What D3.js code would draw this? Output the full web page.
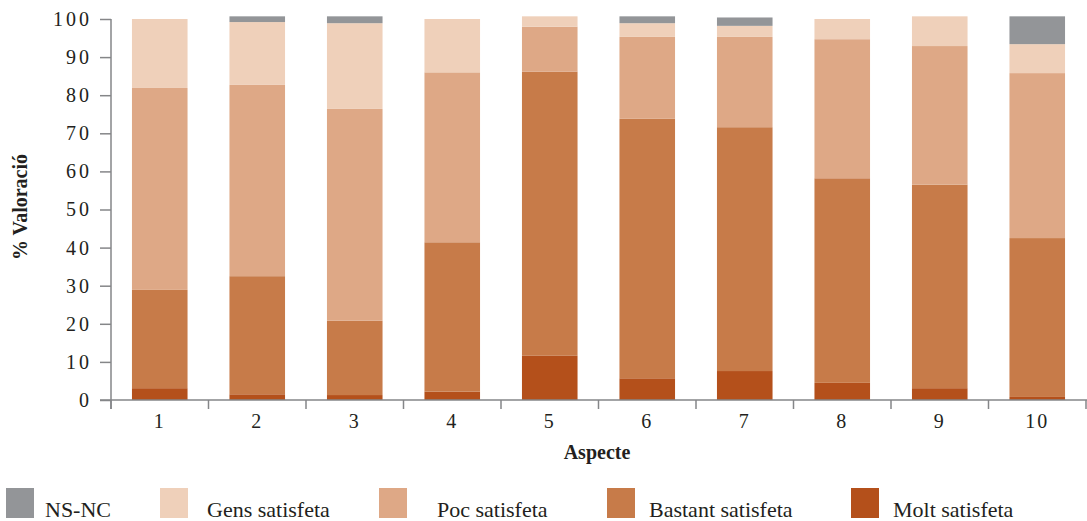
<!DOCTYPE html>
<html>
<head>
<meta charset="utf-8">
<script src="https://cdn.jsdelivr.net/npm/d3@7"></script>
<style>
  html, body { margin: 0; padding: 0; background: #ffffff; }
  svg { display: block; }
  text { font-family: "Liberation Serif", "DejaVu Serif", serif; fill: #231f20; }
</style>
</head>
<body>
<svg id="chart" width="1087" height="521"></svg>
<script>
// ---- Data ----
const categories = ["1", "2", "3", "4", "5", "6", "7", "8", "9", "10"];
const seriesNames = ["Molt satisfeta", "Bastant satisfeta", "Poc satisfeta", "Gens satisfeta", "NS-NC"];
const moltSatisfeta    = [3.1, 1.5, 1.3, 2.2, 11.6, 5.7, 7.6, 4.5, 3.1, 0.8];
const bastantSatisfeta = [25.8, 31.0, 19.5, 39.2, 74.6, 68.1, 64.0, 53.7, 53.4, 41.7];
const pocSatisfeta     = [53.0, 50.2, 55.6, 44.6, 11.8, 21.5, 23.7, 36.5, 36.4, 43.3];
const gensSatisfeta    = [18.1, 16.5, 22.5, 14.0, 2.7, 3.6, 2.9, 5.3, 7.8, 7.6];
const nsNc             = [0, 1.5, 1.8, 0, 0, 1.8, 2.2, 0, 0, 7.3];
const yTicks = [0, 10, 20, 30, 40, 50, 60, 70, 80, 90, 100];
const legendOrder = ["NS-NC", "Gens satisfeta", "Poc satisfeta", "Bastant satisfeta", "Molt satisfeta"];
const colors = {
  "Molt satisfeta": "#b4501b",
  "Bastant satisfeta": "#c77b49",
  "Poc satisfeta": "#dea886",
  "Gens satisfeta": "#efd0ba",
  "NS-NC": "#939598"
};

const valuesBySeries = {
  "Molt satisfeta": moltSatisfeta,
  "Bastant satisfeta": bastantSatisfeta,
  "Poc satisfeta": pocSatisfeta,
  "Gens satisfeta": gensSatisfeta,
  "NS-NC": nsNc
};
const table = categories.map((c, i) => {
  const row = { cat: c };
  seriesNames.forEach(s => row[s] = valuesBySeries[s][i]);
  return row;
});

// ---- Layout ----
const svg = d3.select("#chart");
const x0 = 111, x1 = 1086, yBottom = 400, yTop = 19;

const x = d3.scaleBand().domain(categories).range([x0, x1]).paddingInner(0.43).paddingOuter(0.215);
const y = d3.scaleLinear().domain([0, 100]).range([yBottom, yTop]);

const stacked = d3.stack().keys(seriesNames)(table);

// Bars
svg.append("g").selectAll("g")
  .data(stacked)
  .join("g")
  .attr("fill", d => colors[d.key])
  .selectAll("rect")
  .data(d => d.filter(p => p[1] - p[0] > 0))
  .join("rect")
  .attr("x", d => x(d.data.cat))
  .attr("width", x.bandwidth())
  .attr("y", d => y(d[1]))
  .attr("height", d => y(d[0]) - y(d[1]));

const axisColor = "#858688";

// Y axis
const yAxis = d3.axisLeft(y).tickValues(yTicks).tickSize(11).tickPadding(8);
const gy = svg.append("g").attr("transform", `translate(${x0},0)`).call(yAxis);
gy.select(".domain").remove();
gy.selectAll(".tick line").attr("stroke", axisColor).attr("stroke-width", 1.5);
gy.selectAll(".tick text").attr("font-size", 20).attr("fill", "#231f20")
  .attr("letter-spacing", 3)
  .style("font-family", '"Liberation Serif", serif');
svg.append("line").attr("x1", x0).attr("x2", x0).attr("y1", yTop).attr("y2", yBottom + 9)
  .attr("stroke", axisColor).attr("stroke-width", 1.5);

// X axis line
svg.append("line").attr("x1", 100).attr("x2", 1087).attr("y1", yBottom).attr("y2", yBottom)
  .attr("stroke", axisColor).attr("stroke-width", 1.5);

// X boundary ticks
const step = x.step();
const boundaries = categories.map(c => x(c) - x.paddingInner() * step / 2).concat([x1]);
svg.append("g").selectAll("line").data(boundaries).join("line")
  .attr("x1", d => d).attr("x2", d => d)
  .attr("y1", yBottom).attr("y2", yBottom + 9)
  .attr("stroke", axisColor).attr("stroke-width", 1.5);

// X labels
svg.append("g").selectAll("text").data(categories).join("text")
  .attr("x", d => x(d) + x.bandwidth() / 2)
  .attr("y", 428)
  .attr("text-anchor", "middle")
  .attr("font-size", 20)
  .attr("letter-spacing", 2)
  .text(d => d);

// Axis titles
svg.append("text")
  .attr("transform", "translate(27,207) rotate(-90)")
  .attr("text-anchor", "middle")
  .attr("font-size", 20)
  .attr("font-weight", "bold")
  .text("% Valoració");

svg.append("text")
  .attr("x", 597).attr("y", 459)
  .attr("text-anchor", "middle")
  .attr("font-size", 20)
  .attr("font-weight", "bold")
  .text("Aspecte");

// Legend
const legendX = [6, 160, 379, 607, 851];
const lg = svg.append("g").selectAll("g").data(legendOrder).join("g")
  .attr("transform", (d, i) => `translate(${legendX[i]},488)`);
lg.append("rect").attr("width", 28).attr("height", 30).attr("fill", d => colors[d]);
lg.append("text").attr("x", d => d === "NS-NC" ? 39 : (d === "Gens satisfeta" ? 47 : (d === "Poc satisfeta" ? 58 : 42)))
  .attr("y", 29).attr("font-size", 22).text(d => d);
</script>
</body>
</html>
